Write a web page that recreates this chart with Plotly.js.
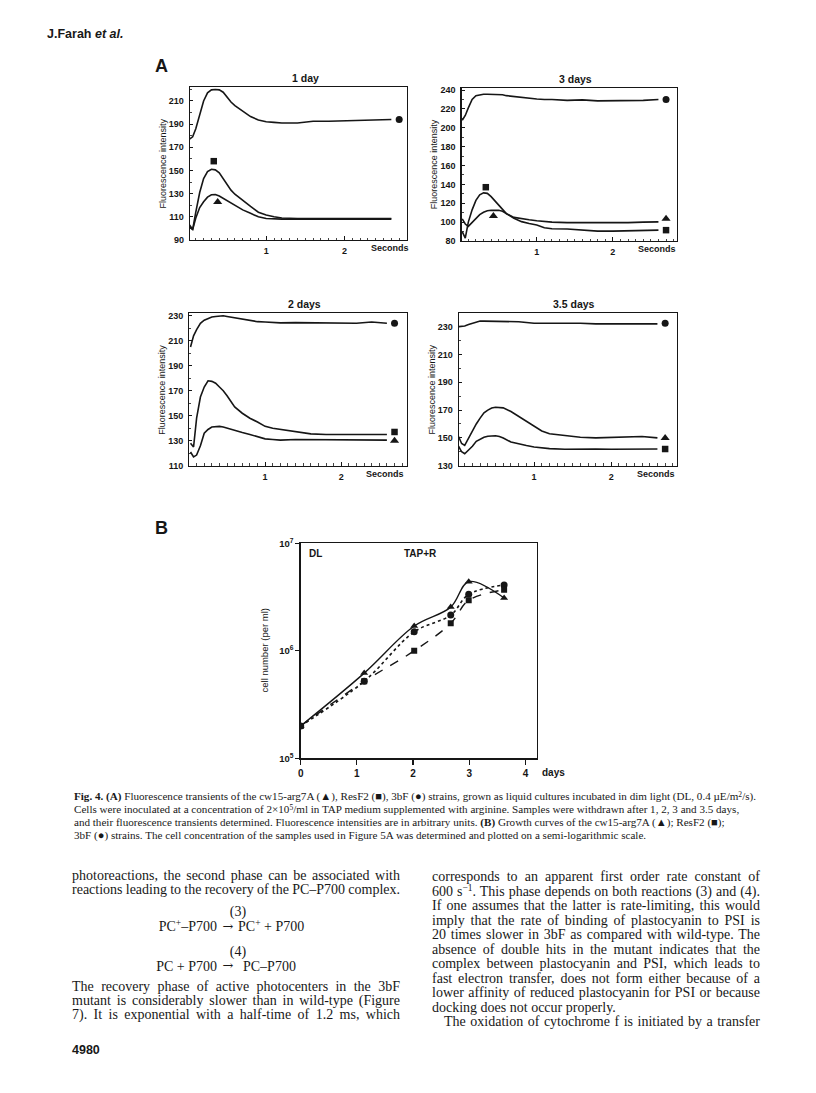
<!DOCTYPE html>
<html><head><meta charset="utf-8">
<script src="https://cdn.plot.ly/plotly-3.0.1.min.js"></script>
<style>
html,body{margin:0;padding:0;background:#fff;}
#page{position:relative;width:816px;height:1093px;overflow:hidden;background:#fff;}
#chart{position:absolute;left:0;top:0;width:816px;height:1093px;}
.ln{position:absolute;white-space:nowrap;font-family:'Liberation Serif','Times New Roman',serif;color:#181818;}
.ln sup{font-size:0.68em;position:relative;top:-0.48em;vertical-align:baseline;line-height:0;}
.sans{font-family:'Liberation Sans',Arial,sans-serif;font-weight:bold;}
.arr{font-family:'DejaVu Serif','Liberation Serif',serif;}
</style></head>
<body><div id="page"><div id="chart"></div></div>
<script>
// ---------------- DATA ----------------
const tSec = [0.02,0.06,0.1,0.15,0.2,0.25,0.3,0.35,0.4,0.45,0.5,0.55,0.6,0.7,0.8,0.9,1.0,1.1,1.2,1.4,1.6,1.8,2.0,2.2,2.4,2.6];

const panelTitles = ['1 day','3 days','2 days','3.5 days'];

const day1_cw15  = [103,99,109,118,123,127,129,129.3,128,126,124.5,122,120,116,113,110,108.5,108,108,108,108,108,108.5,108,108,108];
const day1_ResF2 = [101,99,114,131,143,149,151,150.5,148,143,138,133,129.5,124,119,114,111.5,110,109,108.5,108.5,108.5,108.5,108.5,108.5,108.5];
const day1_3bF   = [177,179,186,197,210,217,219.5,219.8,219.5,217.5,213,209,206,201,196.5,193.5,192,191.5,191,191,192.5,192.5,193,193.5,194,194];

const day3_cw15  = [103.5,98,95.5,100,104,108,110.5,112,112.5,112.5,112.5,111.5,109,105,103.5,102.5,101.5,100.5,100,99.5,99.5,99,99.5,99.5,100,100.3];
const day3_ResF2 = [90,83,100,113,123,129,131,130.5,127,123,118,113.5,109,104,100.5,98.5,97,94,93,92.7,91.5,90.5,90.5,91,91.5,91.5];
const day3_3bF   = [208,213,221,230,234,235,235.5,235.5,235.5,235.5,235.5,235,234,233,232,231,230.5,230,230,229,229.5,228.5,228.5,228.5,229,230];

const day2_cw15  = [121,117,118.5,126,136,139,141,141.5,141.5,141,140,139,138,136.5,135,133.5,131.5,131,130.5,131,131,131,131,131,131,130.5];
const day2_ResF2 = [128,125,148,165,173,178,177.5,176,173,170,166,161.5,157,152,148,145,141.5,140,139,137,135.5,135,135,135.5,135.5,135];
const day2_3bF   = [205,214,219,224,226.5,228,229,229.5,230,230,229.5,229,228.5,227.5,226,225.3,225,224.5,224.3,224.5,224.5,224,224,224,225,224];

const day35_cw15  = [151,146,144.6,150,155,160,164.2,168,170,171.5,172,172,171.6,169,165.5,161.5,158,155,153,151.5,150.5,150,150.5,151,151,150];
const day35_ResF2 = [144,140,138.6,141,144,147.5,149,150.5,151.2,151.5,151.5,151,149.9,147,145.5,144.5,143.5,142.7,142.3,141.8,142,142,141.8,142,142,142];
const day35_3bF   = [230,230,230.5,231.5,232.5,233.5,234,234,234,234,234,234,233.8,233.6,233.5,233,232.4,232.4,232.5,232.5,232.4,232,232,231.5,232,232];

const growthDays   = [0, 1.13, 2.02, 2.67, 2.99, 3.62];
const growth_cw15  = [2.0e5, 6.2e5, 1.7e6, 2.55e6, 4.4e6, 3.1e6];
const growth_ResF2 = [2.0e5, 5.2e5, 1.0e6, 1.8e6, 2.95e6, 3.7e6];
const growth_3bF   = [2.0e5, 5.2e5, 1.5e6, 2.15e6, 3.35e6, 4.1e6];
const growthTickVals = [1e5, 1e6, 1e7];
const growthTickText = ['10<sup>5</sup>','10<sup>6</sup>','10<sup>7</sup>'];

// ---------------- LAYOUT HELPERS ----------------
const W=816, H=1093;
const PX = x => x/W, PY = y => 1 - y/H;
const INK = '#161616';
const NARROW = "'Liberation Sans Narrow','Liberation Sans',Arial,sans-serif";
const SANS = "'Liberation Sans',Arial,sans-serif";
const tickFont = {family:NARROW, size:9, color:INK, weight:700};
const SYM = {cw15:{symbol:'triangle-up',size:8}, ResF2:{symbol:'square',size:6.5}, bF:{symbol:'circle',size:7}};

const panels = [
  {title:panelTitles[0], box:[190,87,407,240], xr:[0.026,2.80], yr:[90,222], tick0:10,
   series:{cw15:day1_cw15, ResF2:day1_ResF2, bF:day1_3bF}, endDy:{bF:0}, peakDy:{ResF2:7, cw15:-6.5}},
  {title:panelTitles[1], box:[461.7,88.3,676.7,241], xr:[0.013,2.84], yr:[80,241.8], tick0:0,
   series:{cw15:day3_cw15, ResF2:day3_ResF2, bF:day3_3bF}, endDy:{bF:0, cw15:3.4, ResF2:0}, peakDy:{ResF2:6, cw15:-6}},
  {title:panelTitles[2], box:[189.3,313.3,406.7,465.7], xr:[0.004,2.86], yr:[110,232], tick0:10,
   series:{cw15:day2_cw15, ResF2:day2_ResF2, bF:day2_3bF}, endDy:{bF:0, ResF2:2, cw15:-0.5}, peakDy:{}},
  {title:panelTitles[3], box:[459,313.3,676.7,465.7], xr:[0.026,2.85], yr:[130,239.6], tick0:10,
   series:{cw15:day35_cw15, ResF2:day35_ResF2, bF:day35_3bF}, endDy:{bF:0.5, cw15:0, ResF2:0}, peakDy:{}},
];

const traces = [];
const layout = {
  width:W, height:H, margin:{l:0,r:0,t:0,b:0},
  paper_bgcolor:'#fff', plot_bgcolor:'rgba(0,0,0,0)', showlegend:false,
  font:{family:SANS, color:INK}, annotations:[]
};

panels.forEach((p,i) => {
  const k = i+1, xs = k===1?'x':'x'+k, ys = k===1?'y':'y'+k;
  const b = p.box;
  layout['xaxis'+(k===1?'':k)] = {
    domain:[PX(b[0]),PX(b[2])], range:p.xr, anchor:ys,
    showline:true, mirror:true, linecolor:INK, linewidth:1.3,
    ticks:'inside', ticklen:4, tickwidth:1, tickcolor:INK, dtick:1, tick0:0,
    tickfont:tickFont, ticklabelstandoff:2, showgrid:false, zeroline:false,
    minor:{ticks:'inside', ticklen:2.5, dtick:0.1, tick0:0, tickcolor:INK, tickwidth:0.8, showgrid:false}
  };
  layout['yaxis'+(k===1?'':k)] = {
    domain:[PY(b[3]),PY(b[1])], range:p.yr, anchor:xs,
    showline:true, mirror:true, linecolor:INK, linewidth:1.3,
    ticks:'inside', ticklen:3, tickwidth:1, tickcolor:INK, dtick:20, tick0:p.tick0,
    tickfont:tickFont, ticklabelstandoff:3, showgrid:false, zeroline:false,
    minor:{ticks:'inside', ticklen:2, dtick:10, tick0:p.tick0, tickcolor:INK, tickwidth:0.8, showgrid:false}
  };
  const tEnd = tSec[tSec.length-1];
  Object.keys(p.series).forEach(key => {
    const v = p.series[key];
    traces.push({x:tSec, y:v, xaxis:xs, yaxis:ys, mode:'lines', line:{color:INK, width:1.6}, hoverinfo:'skip'});
    if (key in p.endDy) {
      traces.push({x:[tEnd+0.1], y:[v[v.length-1]+p.endDy[key]], xaxis:xs, yaxis:ys, mode:'markers',
        marker:{symbol:SYM[key].symbol, size:SYM[key].size, color:INK}, cliponaxis:false, hoverinfo:'skip'});
    }
    if (key in p.peakDy) {
      let m = 0; v.forEach((y,j)=>{ if (y>v[m]) m=j; });
      traces.push({x:[tSec[m]+0.03], y:[v[m]+p.peakDy[key]], xaxis:xs, yaxis:ys, mode:'markers',
        marker:{symbol:SYM[key].symbol, size:SYM[key].size, color:INK}, cliponaxis:false, hoverinfo:'skip'});
    }
  });
  layout.annotations.push(
    {text:p.title, xref:xs+' domain', x:0.53, xanchor:'center', yref:ys+' domain', y:1, yanchor:'bottom', yshift:1,
     showarrow:false, font:{family:NARROW, size:10.5, color:INK, weight:700}},
    {text:'Seconds', xref:xs, x:2.58, xanchor:'center', yref:ys+' domain', y:0, yanchor:'top', yshift:-1,
     showarrow:false, font:{family:NARROW, size:9, color:INK, weight:700}},
    {text:'Fluorescence intensity', xref:xs+' domain', x:0, xanchor:'center', xshift:-28, yref:ys+' domain', y:0.5,
     yanchor:'middle', textangle:-90, showarrow:false, font:{family:NARROW, size:9, color:INK}}
  );
});

// Panel B
const bb = [300.7,543.3,536.7,758.3];
layout.xaxis5 = {domain:[PX(bb[0]),PX(bb[2])], range:[0,4.2], anchor:'y5', showline:true, mirror:true,
  linecolor:INK, linewidth:1.3, ticks:'outside', ticklen:5, tickwidth:1.2, tickcolor:INK, dtick:1, tick0:0,
  tickfont:{family:NARROW, size:10, color:INK, weight:700}, showgrid:false, zeroline:false};
layout.yaxis5 = {domain:[PY(bb[3]),PY(bb[1])], type:'log', range:[5,7], anchor:'x5', showline:true, mirror:true,
  linecolor:INK, linewidth:1.3, ticks:'outside', ticklen:4, tickwidth:1.2, tickcolor:INK,
  tickvals:growthTickVals, ticktext:growthTickText,
  tickfont:{family:NARROW, size:9.5, color:INK, weight:700}, showgrid:false, zeroline:false};
traces.push(
  {x:growthDays, y:growth_cw15, xaxis:'x5', yaxis:'y5', mode:'lines+markers',
   line:{color:INK, width:1.4, shape:'spline', smoothing:1}, marker:{symbol:'triangle-up', size:7, color:INK}, hoverinfo:'skip'},
  {x:growthDays, y:growth_3bF, xaxis:'x5', yaxis:'y5', mode:'lines+markers',
   line:{color:INK, width:1.6, dash:'dot', shape:'spline', smoothing:1}, marker:{symbol:'circle', size:7, color:INK}, hoverinfo:'skip'},
  {x:growthDays, y:growth_ResF2, xaxis:'x5', yaxis:'y5', mode:'lines+markers',
   line:{color:INK, width:1.4, dash:'dash', shape:'spline', smoothing:1}, marker:{symbol:'square', size:6, color:INK}, hoverinfo:'skip'}
);
layout.annotations.push(
  {text:'DL', xref:'x5 domain', x:0.025, xanchor:'left', yref:'y5 domain', y:1, yanchor:'top', yshift:-3,
   showarrow:false, font:{family:NARROW, size:10, color:INK, weight:700}},
  {text:'TAP+R', xref:'x5 domain', x:0.43, xanchor:'left', yref:'y5 domain', y:1, yanchor:'top', yshift:-3,
   showarrow:false, font:{family:NARROW, size:10, color:INK, weight:700}},
  {text:'days', xref:'x5 domain', x:1.0, xanchor:'left', xshift:3, yref:'y5 domain', y:0, yanchor:'top', yshift:-7,
   showarrow:false, font:{family:NARROW, size:10, color:INK, weight:700}},
  {text:'cell number (per ml)', xref:'x5 domain', x:0, xanchor:'center', xshift:-36, yref:'y5 domain', y:0.5,
   yanchor:'middle', textangle:-90, showarrow:false, font:{family:NARROW, size:9.5, color:INK}},
  {text:'A', xref:'paper', x:PX(153), xanchor:'left', yref:'paper', y:PY(66), yanchor:'middle',
   showarrow:false, font:{family:SANS, size:18, color:INK, weight:700}},
  {text:'B', xref:'paper', x:PX(153), xanchor:'left', yref:'paper', y:PY(527.5), yanchor:'middle',
   showarrow:false, font:{family:SANS, size:18, color:INK, weight:700}}
);

Plotly.newPlot('chart', traces, layout, {staticPlot:true, displayModeBar:false});

// ---------------- PAGE TEXT ----------------
const page = document.getElementById('page');
function place(html, x, cy, fs, o) {
  o = o || {};
  const d = document.createElement('div');
  d.className = 'ln' + (o.cls ? ' '+o.cls : '');
  d.style.fontSize = fs+'px';
  d.style.lineHeight = fs+'px';
  d.style.height = fs+'px';
  d.innerHTML = html;
  page.appendChild(d);
  const w = d.getBoundingClientRect().width;
  if (o.width) {
    const n = (d.textContent.match(/ /g)||[]).length;
    if (n) d.style.wordSpacing = ((o.width - w)/n)+'px';
  }
  let left = x;
  if (o.align==='center') left = x - w/2;
  else if (o.align==='right') left = x - w;
  d.style.left = left+'px';
  d.style.top = (cy - fs*0.5)+'px';
  return d;
}

place('J.Farah <i>et al.</i>', 47, 34, 12.5, {cls:'sans'});
place('4980', 72, 1050, 12.5, {cls:'sans'});

// caption
const capLines = [
  '<b>Fig. 4.</b> <b>(A)</b> Fluorescence transients of the cw15-arg7A (▲), ResF2 (■), 3bF (●) strains, grown as liquid cultures incubated in dim light (DL, 0.4 µE/m<sup>2</sup>/s).',
  'Cells were inoculated at a concentration of 2×10<sup>5</sup>/ml in TAP medium supplemented with arginine. Samples were withdrawn after 1, 2, 3 and 3.5 days,',
  'and their fluorescence transients determined. Fluorescence intensities are in arbitrary units. <b>(B)</b> Growth curves of the cw15-arg7A (▲); ResF2 (■);',
  '3bF (●) strains. The cell concentration of the samples used in Figure 5A was determined and plotted on a semi-logarithmic scale.'
];
const probe = place(capLines[0], 0, -100, 10);
const capFs = 10 * 683 / probe.getBoundingClientRect().width;
probe.remove();
capLines.forEach((s,i) => place(s, 74, 797 + i*12.8, capFs));

// body, left column
const FS = 14, CW = 328;
place('photoreactions, the second phase can be associated with', 72, 876, FS, {width:CW});
place('reactions leading to the recovery of the PC–P700 complex.', 72, 890.4, FS, {width:CW});
place('(3)', 238, 911.5, FS, {align:'center'});
place('PC<sup>+</sup>–P700', 217, 927, FS, {align:'right'});
place('→', 228, 926, 13, {align:'center', cls:'arr'});
place('PC<sup>+</sup> + P700', 238, 927, FS);
place('(4)', 238, 951.5, FS, {align:'center'});
place('PC + P700', 217, 966.5, FS, {align:'right'});
place('→', 228, 965.5, 13, {align:'center', cls:'arr'});
place('PC–P700', 243, 966.5, FS);
place('The recovery phase of active photocenters in the 3bF', 72, 986.5, FS, {width:CW});
place('mutant is considerably slower than in wild-type (Figure', 72, 1000.9, FS, {width:CW});
place('7). It is exponential with a half-time of 1.2 ms, which', 72, 1015.3, FS, {width:CW});

// body, right column
const rightLines = [
  ['corresponds to an apparent first order rate constant of', true],
  ['600 s<sup>−1</sup>. This phase depends on both reactions (3) and (4).', true],
  ['If one assumes that the latter is rate-limiting, this would', true],
  ['imply that the rate of binding of plastocyanin to PSI is', true],
  ['20 times slower in 3bF as compared with wild-type. The', true],
  ['absence of double hits in the mutant indicates that the', true],
  ['complex between plastocyanin and PSI, which leads to', true],
  ['fast electron transfer, does not form either because of a', true],
  ['lower affinity of reduced plastocyanin for PSI or because', true],
  ['docking does not occur properly.', false],
];
rightLines.forEach((l,i) => place(l[0], 432, 877 + i*14.5, FS, l[1] ? {width:CW} : {}));
place('The oxidation of cytochrome f is initiated by a transfer', 444, 877 + 10*14.5, FS, {width:CW-12});
</script></body></html>
